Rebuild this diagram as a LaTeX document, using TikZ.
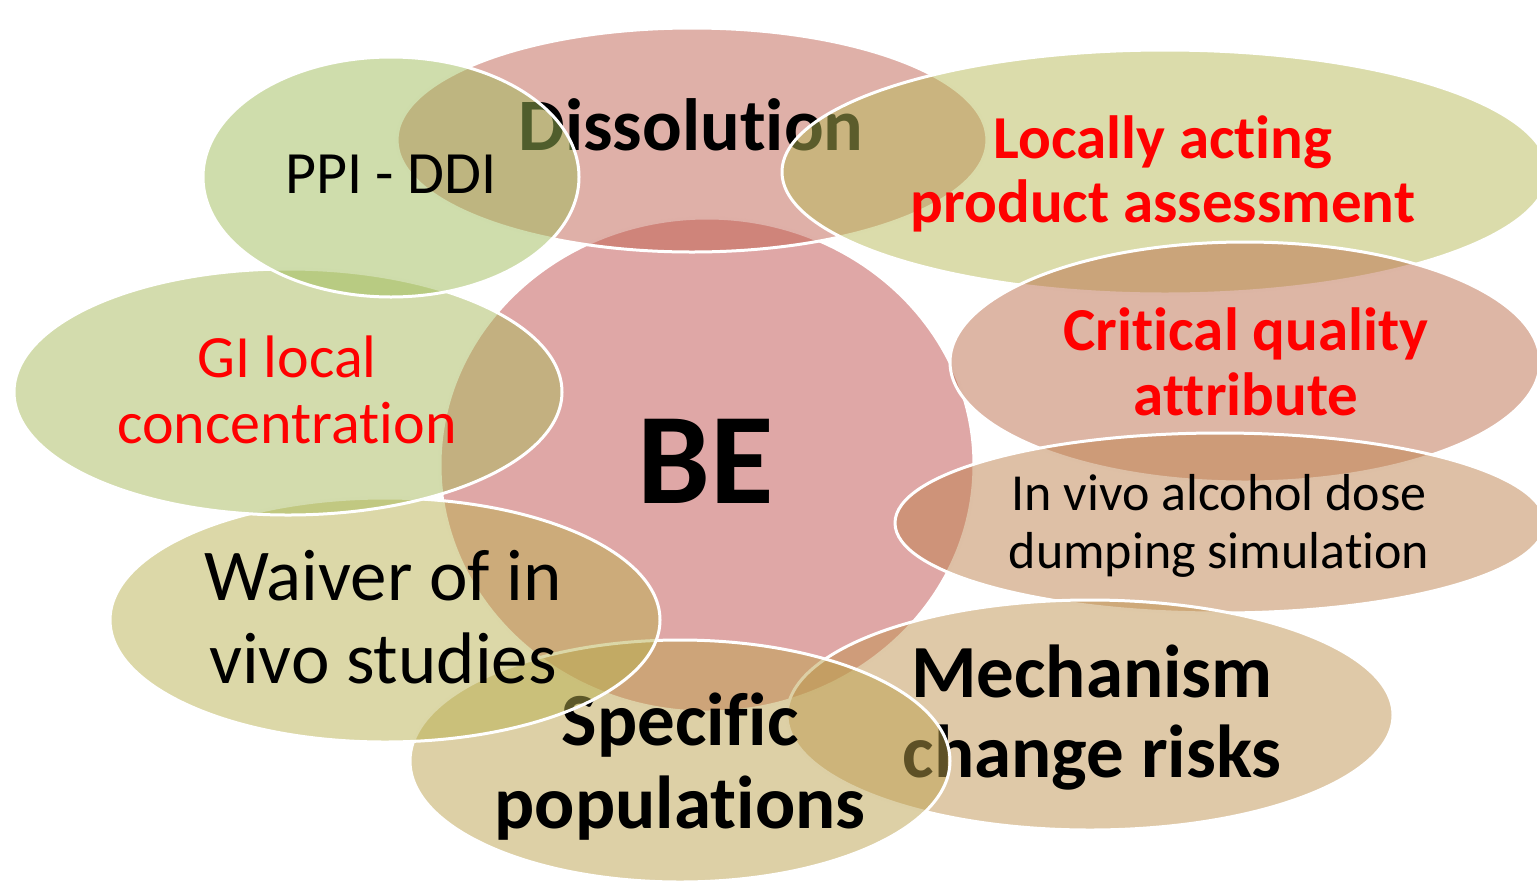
\documentclass[tikz,border=0pt]{standalone}
\usepackage{fontspec}
\setmainfont{Carlito}[RawFeature={-liga}]
\definecolor{cBE}{RGB}{192,80,77}
\definecolor{cDis}{RGB}{191,97,81}
\definecolor{cLoc}{RGB}{183,185,87}
\definecolor{cCri}{RGB}{187,109,75}
\definecolor{cAlc}{RGB}{189,129,77}
\definecolor{cMec}{RGB}{191,147,81}
\definecolor{cSpe}{RGB}{187,161,77}
\definecolor{cWai}{RGB}{185,177,81}
\definecolor{cGI}{RGB}{167,185,91}
\definecolor{cPPI}{RGB}{159,187,89}
\definecolor{txtred}{RGB}{255,0,0}
\tikzset{
  venn/.style={draw=white, line width=3pt, fill=#1, fill opacity=0.5},
  lbl/.style={anchor=base, inner sep=0pt, text=black},
  redlbl/.style={lbl, text=txtred},
}
\newcommand\fszBE{\fontsize{130}{130}\selectfont\bfseries}
\newcommand\fszDis{\fontsize{74}{80}\selectfont\bfseries}
\newcommand\fszLoc{\fontsize{61}{64}\selectfont\bfseries}
\newcommand\fszAlc{\fontsize{52}{58}\selectfont}
\newcommand\fszMec{\fontsize{75}{80}\selectfont\bfseries}
\newcommand\fszWai{\fontsize{73}{80}\selectfont}
\newcommand\fszGI{\fontsize{60}{66}\selectfont}
\begin{document}
\begin{tikzpicture}[x=1pt,y=-1pt]
\useasboundingbox (0,0) rectangle (1537,887);
\clip (0,0) rectangle (1537,887);
% BE
\path[venn=cBE] (707,465) ellipse [x radius=267, y radius=247];
\node[lbl, font=\fszBE] (be) at (706,503) {BE};
% Dissolution
\path[venn=cDis] (692,140) ellipse [x radius=295, y radius=112];
\node[lbl, font=\fszDis] (dis) at (691,150) {Dissolution};
% Locally acting
\path[venn=cLoc] (1165,172) ellipse [x radius=383, y radius=122];
\node[redlbl, font=\fszLoc] (loc1) at (1163,158) {Locally acting};
\node[redlbl, font=\fszLoc] (loc2) at (1163,222) {product assessment};
% Critical quality
\path[venn=cCri] (1245,362) ellipse [x radius=295, y radius=120];
\node[redlbl, font=\fszLoc] (cri1) at (1246,350) {Critical quality};
\node[redlbl, font=\fszLoc] (cri2) at (1246,415) {attribute};
% In vivo alcohol
\path[venn=cAlc] (1220,523) ellipse [x radius=325, y radius=90];
\node[lbl, font=\fszAlc] (alc1) at (1219,510) {In vivo alcohol dose};
\node[lbl, font=\fszAlc] (alc2) at (1219,568) {dumping simulation};
% Mechanism
\path[venn=cMec] (1090,715) ellipse [x radius=303, y radius=115];
\node[lbl, font=\fszMec] (mec1) at (1092,697) {Mechanism};
\node[lbl, font=\fszMec] (mec2) at (1092,777) {change risks};
% Specific populations
\path[venn=cSpe] (680,761) ellipse [x radius=270, y radius=121];
\node[lbl, font=\fszMec] (spe1) at (680,745) {Specific};
\node[lbl, font=\fszMec] (spe2) at (680,828) {populations};
% Waiver
\path[venn=cWai] (385,620) ellipse [x radius=275, y radius=122];
\node[lbl, font=\fszWai] (wai1) at (383,600) {Waiver of in};
\node[lbl, font=\fszWai] (wai2) at (383,683) {vivo studies};
% GI local
\path[venn=cGI] (288,392) ellipse [x radius=274, y radius=123];
\node[redlbl, font=\fszGI] (gi1) at (287,377) {GI local};
\node[redlbl, font=\fszGI] (gi2) at (287,443) {concentration};
% PPI - DDI
\path[venn=cPPI] (391,177) ellipse [x radius=188, y radius=120];
\node[lbl, font=\fszGI] (ppi) at (391,193) {PPI - DDI};
\end{tikzpicture}
\end{document}
